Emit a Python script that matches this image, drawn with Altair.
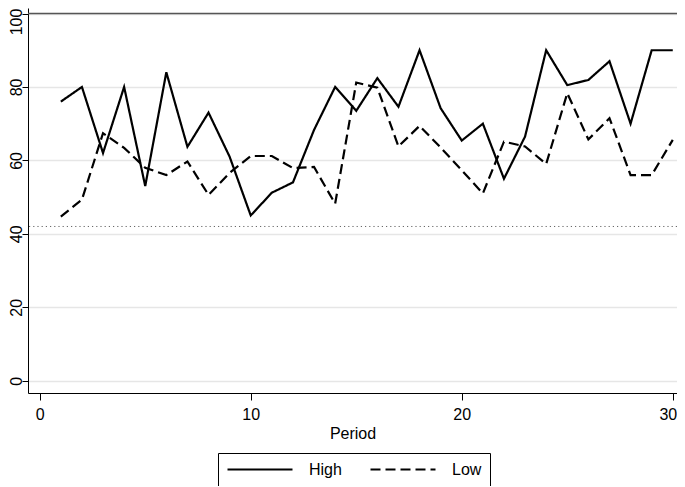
import altair as alt
import pandas as pd

FONT = "Liberation Sans"

periods = [1, 2, 3, 4, 5, 6, 7, 8, 9, 10, 11, 12, 13, 14, 15,
           16, 17, 18, 19, 20, 21, 22, 23, 24, 25, 26, 27, 28, 29, 30]
high = [76, 80, 62, 80, 53, 84, 63.7, 73, 61, 45, 51.2, 54, 68.3, 80, 73.5,
        82.4, 74.6, 90, 74.2, 65.4, 70, 55, 66.5, 90, 80.5, 81.9, 87, 70, 90, 90]
low = [44.7, 49.3, 67.4, 63.4, 58, 56, 59.7, 50.6, 56.6, 61.2, 61.2, 57.9, 58.2, 48.2, 81.2,
       79.8, 63.8, 69.4, 63.5, 57.3, 51, 65.1, 63.8, 59, 78.3, 65.7, 71.5, 56, 56, 65.6]
groups = ["High", "Low"]
x_ticks = [0, 10, 20, 30]
y_ticks = [0, 20, 40, 60, 80, 100]
top_line = [100]
dotted_line = [42]

df = pd.DataFrame({
    "Period": periods + periods,
    "Value": high + low,
    "Group": [groups[0]] * len(high) + [groups[1]] * len(low),
})

x_scale = alt.Scale(domain=[-0.555, 30.2], nice=False, zero=False)
y_scale = alt.Scale(domain=[-3.35, 101.5], nice=False, zero=False)

y_axis = alt.Axis(
    values=y_ticks, title=None, grid=True, labelAngle=270,
    labelAlign="center", labelBaseline="alphabetic", labelPadding=1, tickSize=6,
    labelOffset={"condition": {"test": "datum.value == 100", "value": 8}, "value": 0},
)
x_axis = alt.Axis(
    values=x_ticks, title="Period", grid=False, tickSize=7, labelPadding=6,
    labelOffset={"condition": {"test": "datum.value == 30", "value": -5}, "value": 0},
    titleFontSize=16, titleFont=FONT, titleFontWeight="normal", titleColor="black",
    titleY=45.5, titleBaseline="alphabetic",
)

dotted = alt.Chart(pd.DataFrame({"Value": dotted_line})).mark_rule(
    color="#666666", strokeWidth=1, strokeDash=[1.2, 3]
).encode(y=alt.Y("Value:Q", scale=y_scale, axis=y_axis))

top = alt.Chart(pd.DataFrame({"Value": top_line})).mark_rule(
    color="#555555", strokeWidth=1.6
).encode(y=alt.Y("Value:Q", scale=y_scale, axis=y_axis))

lines = alt.Chart(df).mark_line(color="black", strokeWidth=2.2).encode(
    x=alt.X("Period:Q", scale=x_scale, axis=x_axis),
    y=alt.Y("Value:Q", scale=y_scale, axis=y_axis),
    strokeDash=alt.StrokeDash(
        "Group:N",
        scale=alt.Scale(domain=groups, range=[[1, 0], [10, 5]]),
        legend=alt.Legend(
            title=None, orient="none", legendX=190, legendY=445,
            direction="horizontal", symbolType="stroke", symbolSize=4225,
            symbolStrokeWidth=2.2, symbolStrokeColor="black", clipHeight=17,
            labelFontSize=16, labelFont=FONT, labelColor="black",
            labelOffset=15, columnPadding=27, strokeColor="black", padding=8,
        ),
    ),
)

chart = alt.layer(dotted, top, lines).properties(
    width=649, height=385,
    autosize=alt.AutoSizeParams(type="none"),
    padding={"left": 20, "top": 0, "right": 0, "bottom": 93},
).configure_view(stroke=None).configure_axis(
    domainColor="black", tickColor="black", domainWidth=1, tickWidth=1,
    gridColor="#e6e6e6", gridWidth=1.3,
    labelColor="black", labelFont=FONT, labelFontSize=16,
)

chart.save("out.html", embed_options={"renderer": "svg", "actions": False})
